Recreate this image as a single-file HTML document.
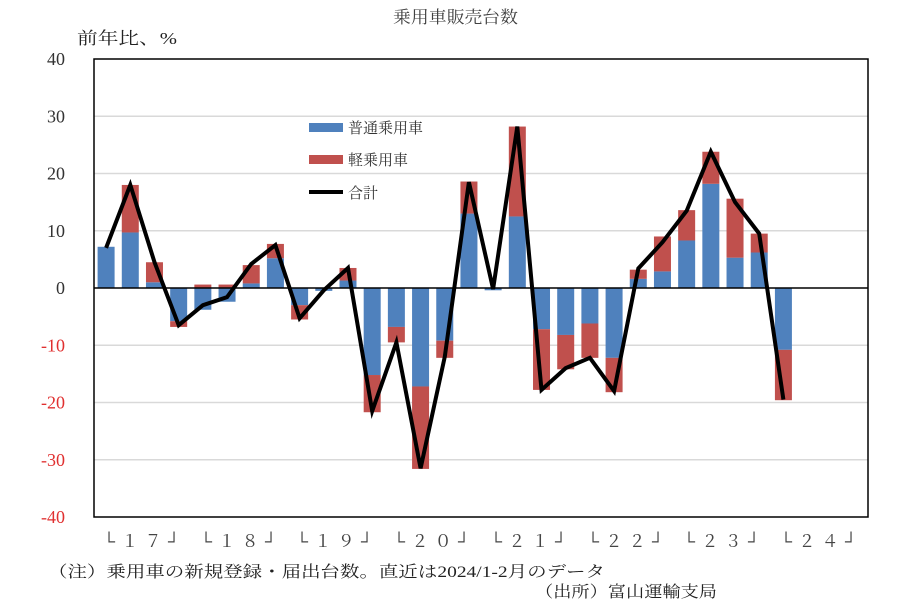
<!DOCTYPE html>
<html><head><meta charset="utf-8">
<style>
html,body{margin:0;padding:0;background:#fff;}
svg{display:block;font-family:"Liberation Serif","Noto Serif CJK JP",serif;}
</style></head>
<body>
<svg id="s" width="912" height="608" viewBox="0 0 912 608" xmlns="http://www.w3.org/2000/svg">
<rect width="912" height="608" fill="#fff"/>
<text x="393" y="23" font-size="17" fill="#404040" textLength="125" lengthAdjust="spacingAndGlyphs">乗用車販売台数</text>
<text x="77" y="44" font-size="17" fill="#222" textLength="100" lengthAdjust="spacingAndGlyphs">前年比、%</text>
<g id="grid"></g>
<g id="bars"></g>
<line x1="94" y1="288" x2="868" y2="288" stroke="#000" stroke-width="1.5"/>
<polyline id="line" fill="none" stroke="#000" stroke-width="4" stroke-linejoin="miter"/>
<rect x="94" y="59" width="774" height="458" fill="none" stroke="#000" stroke-width="1.5"/>
<g id="ylab" font-size="18"></g>
<rect x="309" y="123" width="34" height="9" fill="#4f81bd"/>
<text x="348" y="133" font-size="15" fill="#333">普通乗用車</text>
<rect x="309" y="155" width="34" height="9" fill="#c0504d"/>
<text x="348" y="165" font-size="15" fill="#333">軽乗用車</text>
<line x1="309" y1="192" x2="343" y2="192" stroke="#000" stroke-width="4"/>
<text x="348" y="198" font-size="15" fill="#333">合計</text>
<g font-size="17" fill="#444" lengthAdjust="spacingAndGlyphs">
<text x="103" y="547" textLength="77">└１７┘</text>
<text x="200" y="547" textLength="77">└１８┘</text>
<text x="296" y="547" textLength="77">└１９┘</text>
<text x="393" y="547" textLength="77">└２０┘</text>
<text x="490" y="547" textLength="77">└２１┘</text>
<text x="587" y="547" textLength="77">└２２┘</text>
<text x="683" y="547" textLength="77">└２３┘</text>
<text x="780" y="547" textLength="77">└２４┘</text>
</g>
<text x="48" y="577" font-size="16" fill="#222" textLength="557" lengthAdjust="spacingAndGlyphs">（注）乗用車の新規登録・届出台数。直近は2024/1-2月のデータ</text>
<text x="535" y="597" font-size="16" fill="#222" textLength="182" lengthAdjust="spacingAndGlyphs">（出所）富山運輸支局</text>
</svg>
<script>
var b=[7.2,9.7,1,-5.8,-3.8,-2.4,0.8,5.2,-3,-0.5,1.3,-15.2,-6.8,-17.2,-9.2,13,-0.4,12.5,-7.2,-8.2,-6.2,-12.2,1.6,2.9,8.3,18.2,5.3,6.2,-10.8];
var r=[0,8.3,3.5,-1,0.6,0.6,3.2,2.5,-2.5,0,2.2,-6.5,-2.7,-14.4,-3,5.6,0,15.7,-10.6,-6,-6,-6,1.6,6.1,5.3,5.6,10.3,3.3,-8.8];
var t=[7,18,4.5,-6.5,-3,-1.6,4.2,7.5,-5.3,-0.4,3.5,-21.5,-9.5,-31.5,-12,18.5,-0.2,28.2,-17.8,-14,-12.2,-18,3.4,8,13.5,23.8,15,9.5,-19.5];
function Y(v){return 288-5.725*v;}
var NS="http://www.w3.org/2000/svg";
function el(p,n,a){var e=document.createElementNS(NS,n);for(var k in a)e.setAttribute(k,a[k]);p.appendChild(e);return e;}
var g=document.getElementById('grid'),bs=document.getElementById('bars'),yl=document.getElementById('ylab');
for(var v=-30;v<=30;v+=10){if(v)el(g,'line',{x1:94,x2:868,y1:Y(v),y2:Y(v),stroke:'#d9d9d9','stroke-width':1.5});}
for(var v=-40;v<=40;v+=10){var tx=el(yl,'text',{x:65,y:Y(v)+6,'text-anchor':'end',fill:v<0?'#e03030':'#333'});tx.textContent=v;}
var pts=[];
for(var i=0;i<b.length;i++){
 var c=94+24.19*(i+0.5),x=c-8.5;
 var bv=b[i],rv=r[i];
 el(bs,'rect',{x:x,width:17,y:Math.min(Y(0),Y(bv)),height:Math.abs(5.725*bv),fill:'#4f81bd'});
 if(rv!==0){var base=(rv>0&&bv>0)||(rv<0&&bv<0)?bv:0;
  var y1=Y(base),y2=Y(base+rv);
  el(bs,'rect',{x:x,width:17,y:Math.min(y1,y2),height:Math.abs(y2-y1),fill:'#c0504d'});}
 pts.push(c.toFixed(1)+','+Y(t[i]).toFixed(1));
}
document.getElementById('line').setAttribute('points',pts.join(' '));
</script>
</body></html>
